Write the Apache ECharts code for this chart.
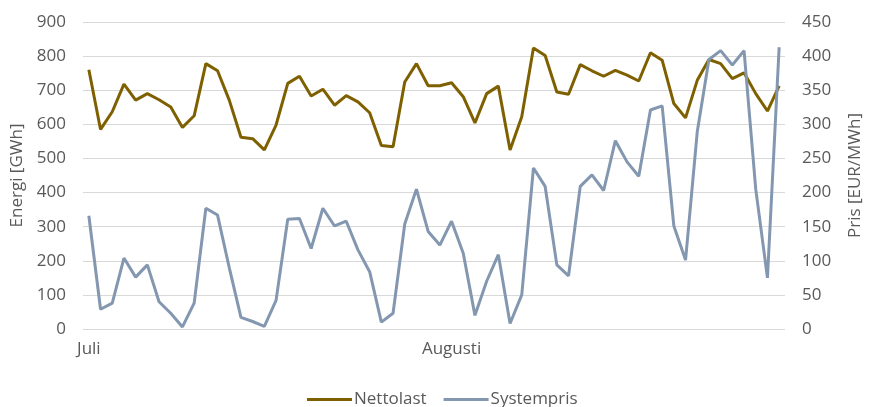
<!DOCTYPE html>
<html>
<head>
<meta charset="utf-8">
<script src="https://cdn.jsdelivr.net/npm/echarts@6/dist/echarts.min.js"></script>
<style>
  html, body { margin: 0; padding: 0; background: #ffffff; }
  #chart { width: 872px; height: 407px; }
</style>
</head>
<body>
<div id="chart"></div>
<script>
const days = [
  '2022-07-01','2022-07-02','2022-07-03','2022-07-04','2022-07-05','2022-07-06','2022-07-07','2022-07-08','2022-07-09','2022-07-10',
  '2022-07-11','2022-07-12','2022-07-13','2022-07-14','2022-07-15','2022-07-16','2022-07-17','2022-07-18','2022-07-19','2022-07-20',
  '2022-07-21','2022-07-22','2022-07-23','2022-07-24','2022-07-25','2022-07-26','2022-07-27','2022-07-28','2022-07-29','2022-07-30',
  '2022-07-31','2022-08-01','2022-08-02','2022-08-03','2022-08-04','2022-08-05','2022-08-06','2022-08-07','2022-08-08','2022-08-09',
  '2022-08-10','2022-08-11','2022-08-12','2022-08-13','2022-08-14','2022-08-15','2022-08-16','2022-08-17','2022-08-18','2022-08-19',
  '2022-08-20','2022-08-21','2022-08-22','2022-08-23','2022-08-24','2022-08-25','2022-08-26','2022-08-27','2022-08-28','2022-08-29'
];
const monthStarts = ['2022-07-01', '2022-08-01'];
const monthLabels = ['Juli', 'Augusti'];

const nettolast = [
  760,585,637,718,671,690,672,651,591,625,
  778,757,671,562,558,525,598,720,741,683,
  703,656,684,666,634,538,534,724,778,713,
  713,722,681,604,690,712,525,622,824,802,
  695,688,775,757,741,758,744,727,810,788,
  661,619,729,790,778,734,751,690,639,713
];
const systempris = [
  166,29,38,104,76,94,40,23,3,38,
  177,167,90,17,11,4,42,161,162,118,
  177,151,158,116,84,10,23,154,205,143,
  123,158,111,20,70,109,8,50,236,209,
  94,78,209,226,203,276,245,224,321,327,
  151,101,289,395,408,387,408,205,75,413
];

const FONT = '"Open Sans", "Noto Sans", sans-serif';
const TXT = '#595959';

const chart = echarts.init(document.getElementById('chart'), null, { renderer: 'canvas' });
chart.setOption({
  animation: false,
  backgroundColor: '#ffffff',
  textStyle: { fontFamily: FONT },
  grid: { left: 83, right: 77, top: 22, bottom: 78, containLabel: false },
  legend: {
    data: ['Nettolast', 'Systempris'],
    left: 302,
    top: 386,
    icon: 'rect',
    itemWidth: 45,
    itemHeight: 3,
    itemGap: 17,
    textStyle: { color: TXT, fontSize: 17, fontFamily: FONT, padding: [0, 0, 0, -3] }
  },
  xAxis: {
    type: 'category',
    data: days,
    boundaryGap: true,
    axisLine: { show: false },
    axisTick: { show: false },
    splitLine: { show: false },
    axisLabel: {
      color: TXT,
      fontSize: 17,
      fontFamily: FONT,
      margin: 12,
      interval: function (index, value) { return monthStarts.indexOf(value) >= 0; },
      formatter: function (value) {
        const k = monthStarts.indexOf(value);
        return k >= 0 ? monthLabels[k] : '';
      }
    }
  },
  yAxis: [
    {
      type: 'value',
      min: 0, max: 900, interval: 100,
      name: 'Energi [GWh]',
      nameLocation: 'middle',
      nameRotate: 90,
      nameGap: 56,
      nameTextStyle: { color: TXT, fontSize: 17, fontFamily: FONT },
      axisLine: { show: false },
      axisTick: { show: false },
      axisLabel: { color: TXT, fontSize: 17, fontFamily: FONT, margin: 17 },
      splitLine: { show: true, lineStyle: { color: '#d9d9d9', width: 1 } }
    },
    {
      type: 'value',
      min: 0, max: 450, interval: 50,
      position: 'right',
      name: 'Pris [EUR/MWh]',
      nameLocation: 'middle',
      nameRotate: 90,
      nameGap: 62,
      nameTextStyle: { color: TXT, fontSize: 17, fontFamily: FONT },
      axisLine: { show: false },
      axisTick: { show: false },
      axisLabel: { color: TXT, fontSize: 17, fontFamily: FONT, margin: 17 },
      splitLine: { show: false }
    }
  ],
  series: [
    {
      name: 'Nettolast',
      type: 'line',
      yAxisIndex: 0,
      data: nettolast,
      symbol: 'none',
      showSymbol: false,
      smooth: false,
      itemStyle: { color: '#7f6000' },
      lineStyle: { color: '#7f6000', width: 3 }
    },
    {
      name: 'Systempris',
      type: 'line',
      yAxisIndex: 1,
      data: systempris,
      symbol: 'none',
      showSymbol: false,
      smooth: false,
      itemStyle: { color: '#8497b0' },
      lineStyle: { color: '#8497b0', width: 3 }
    }
  ]
});
</script>
</body>
</html>
